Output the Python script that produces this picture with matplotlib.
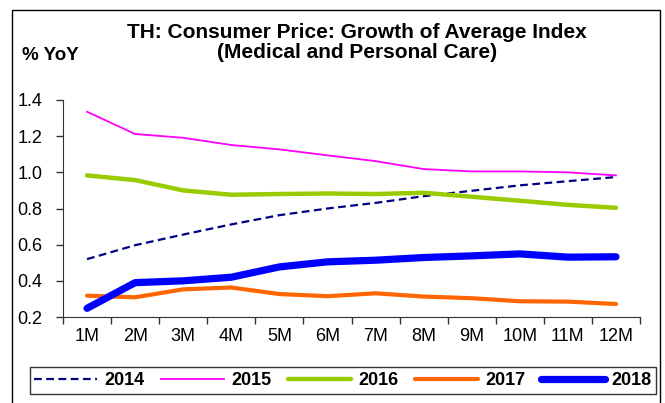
import numpy as np
import matplotlib.pyplot as plt
from matplotlib.patches import Rectangle

plt.rcParams['font.family'] = ['Liberation Sans', 'DejaVu Sans']

months = ['1M', '2M', '3M', '4M', '5M', '6M', '7M', '8M', '9M', '10M', '11M', '12M']
y2014 = [0.52, 0.597, 0.656, 0.712, 0.763, 0.80, 0.831, 0.868, 0.898, 0.928, 0.951, 0.974]
y2015 = [1.335, 1.212, 1.191, 1.151, 1.127, 1.094, 1.062, 1.018, 1.005, 1.005, 1.0, 0.983]
y2016 = [0.983, 0.957, 0.90, 0.876, 0.88, 0.883, 0.88, 0.887, 0.865, 0.843, 0.82, 0.804]
y2017 = [0.318, 0.309, 0.353, 0.363, 0.327, 0.315, 0.331, 0.313, 0.304, 0.287, 0.285, 0.272]
y2018 = [0.248, 0.39, 0.40, 0.42, 0.477, 0.505, 0.514, 0.529, 0.538, 0.549, 0.531, 0.533]

W, H = 665, 403
fig = plt.figure(figsize=(W / 100, H / 100), dpi=100)
ax = fig.add_axes([63 / W, 1 - 317 / H, (640 - 63) / W, (317 - 100) / H])

x = np.arange(len(months)) + 0.5
ax.plot(x, y2014, color='#000080', lw=1.6, ls=(0, (3.5, 2)), label='2014')
ax.plot(x, y2015, color='#FF00FF', lw=1.3, label='2015')
ax.plot(x, y2016, color='#99CC00', lw=3.2, label='2016', solid_capstyle='round')
ax.plot(x, y2017, color='#FF6600', lw=3.0, label='2017', solid_capstyle='round')
ax.plot(x, y2018, color='#0000FF', lw=5.2, label='2018', solid_capstyle='round')

ax.set_xlim(0, 12)
ax.set_ylim(0.2, 1.4)
ax.set_xticks(np.arange(13))
ax.set_xticklabels([])
ax.set_xticks(x, minor=True)
ax.set_xticklabels(months, minor=True)
ax.tick_params(axis='x', which='minor', length=0, pad=8, labelsize=13)
ax.tick_params(axis='x', which='major', length=5, width=1, color='#333333', direction='out')
ax.set_yticks(np.arange(0.2, 1.41, 0.2))
ax.set_yticklabels([f'{v:.1f}' for v in np.arange(0.2, 1.41, 0.2)])
ax.tick_params(axis='y', length=5, width=1, color='#333333', pad=10, labelsize=13)
for s in ['top', 'right']:
    ax.spines[s].set_visible(False)
for s in ['left', 'bottom']:
    ax.spines[s].set_color('#333333')

fig.text(357 / W, 1 - 32 / H, 'TH: Consumer Price: Growth of Average Index',
         ha='center', va='center', fontsize=15, fontweight='bold')
fig.text(357 / W, 1 - 52 / H, '(Medical and Personal Care)',
         ha='center', va='center', fontsize=15, fontweight='bold')
fig.text(22 / W, 1 - 55 / H, '% YoY', ha='left', va='center',
         fontsize=13.5, fontweight='bold')

leg = fig.legend(loc='center', bbox_to_anchor=(343 / W, 1 - 380.5 / H), ncol=5,
                 frameon=True, fancybox=False, edgecolor='black', handlelength=3.5,
                 handletextpad=0.4, columnspacing=0.9, borderpad=0.25,
                 prop={'weight': 'bold', 'size': 13})
leg.get_frame().set_linewidth(1)

fig.patches.append(Rectangle((12 / W, -0.05), (660 - 12) / W, 1.05 - 10 / H,
                             transform=fig.transFigure, fill=False,
                             edgecolor='black', lw=1))

fig.savefig('out.png', dpi=100)
